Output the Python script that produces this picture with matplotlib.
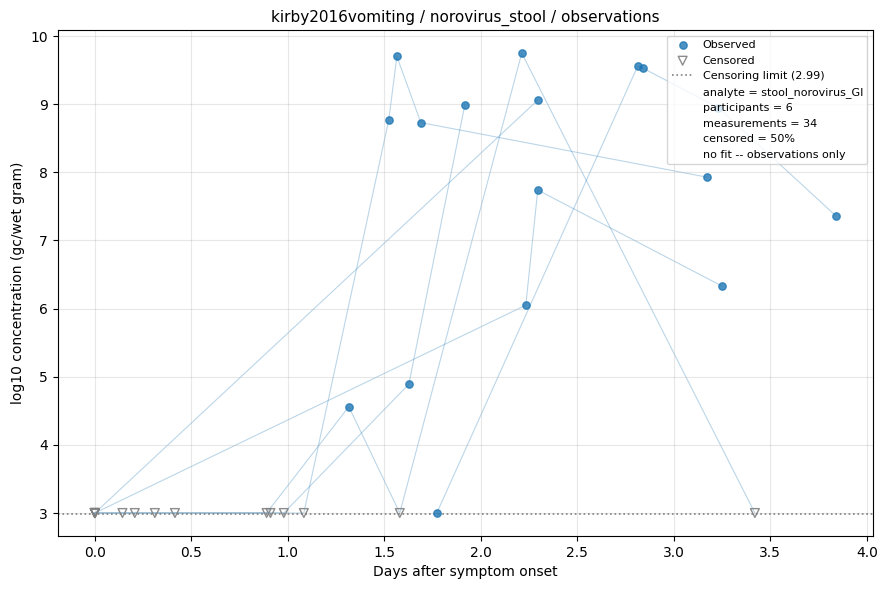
import matplotlib
matplotlib.use("Agg")
import matplotlib.pyplot as plt
from matplotlib.lines import Line2D

# one list per participant: days, log10 value, censored flag
p1_days = [0.0, 0.143, 0.415, 0.89, 1.316, 1.58, 2.212, 3.42]
p1_vals = [3.0, 3.0, 3.0, 3.0, 4.56, 3.0, 9.75, 3.0]
p1_cens = [1, 1, 1, 1, 0, 1, 0, 1]

p2_days = [0.0, 0.207, 0.91, 0.979, 1.627, 1.917]
p2_vals = [3.0, 3.0, 3.0, 3.0, 4.89, 8.99]
p2_cens = [1, 1, 1, 1, 0, 0]

p3_days = [0.0, 0.311, 1.083, 1.523, 1.565, 1.689, 3.17]
p3_vals = [3.0, 3.0, 3.0, 8.77, 9.70, 8.73, 7.93]
p3_cens = [1, 1, 1, 0, 0, 0, 0]

p4_days = [0.0, 0.0, 2.233, 2.295, 3.25]
p4_vals = [3.0, 3.0, 6.05, 7.74, 6.33]
p4_cens = [1, 1, 0, 0, 0]

p5_days = [0.0, 0.0, 2.295]
p5_vals = [3.0, 3.0, 9.06]
p5_cens = [1, 1, 0]

p6_days = [1.772, 2.813, 2.839, 3.23, 3.84]
p6_vals = [3.0, 9.56, 9.53, 8.95, 7.36]
p6_cens = [0, 0, 0, 0, 0]

participants = [
    (p1_days, p1_vals, p1_cens),
    (p2_days, p2_vals, p2_cens),
    (p3_days, p3_vals, p3_cens),
    (p4_days, p4_vals, p4_cens),
    (p5_days, p5_vals, p5_cens),
    (p6_days, p6_vals, p6_cens),
]
limit = 2.99

fig, ax = plt.subplots(figsize=(8.89, 5.9), dpi=100)

obs_x, obs_y, cen_x, cen_y = [], [], [], []
for days, vals, cens in participants:
    ax.plot(days, vals, color="C0", alpha=0.3, lw=0.8, zorder=1)
    for d, v, c in zip(days, vals, cens):
        if c:
            cen_x.append(d)
            cen_y.append(v)
        else:
            obs_x.append(d)
            obs_y.append(v)

ax.scatter(obs_x, obs_y, s=28, color="C0", alpha=0.8, zorder=3, label="Observed")
ax.scatter(cen_x, cen_y, s=40, marker="v", facecolors="none",
           edgecolors="gray", linewidths=1.0, alpha=0.9, zorder=3, label="Censored")
ax.axhline(limit, color="gray", ls=":", lw=1.2, label="Censoring limit (%.2f)" % limit)

n_meas = sum(len(p[0]) for p in participants)
n_cens = sum(sum(p[2]) for p in participants)
extra = [
    "analyte = stool_norovirus_GI",
    "participants = %d" % len(participants),
    "measurements = %d" % n_meas,
    "censored = %d%%" % round(100 * n_cens / n_meas),
    "no fit -- observations only",
]
handles, labels = ax.get_legend_handles_labels()
for t in extra:
    handles.append(Line2D([], [], color="none"))
    labels.append(t)
ax.legend(handles, labels, loc="upper right", fontsize=8)

ax.grid(True, alpha=0.3)
ax.set_title("kirby2016vomiting / norovirus_stool / observations", fontsize=11)
ax.set_xlabel("Days after symptom onset")
ax.set_ylabel("log10 concentration (gc/wet gram)")

fig.subplots_adjust(left=0.065, right=0.982, top=0.949, bottom=0.0915)
fig.savefig("out.png")
